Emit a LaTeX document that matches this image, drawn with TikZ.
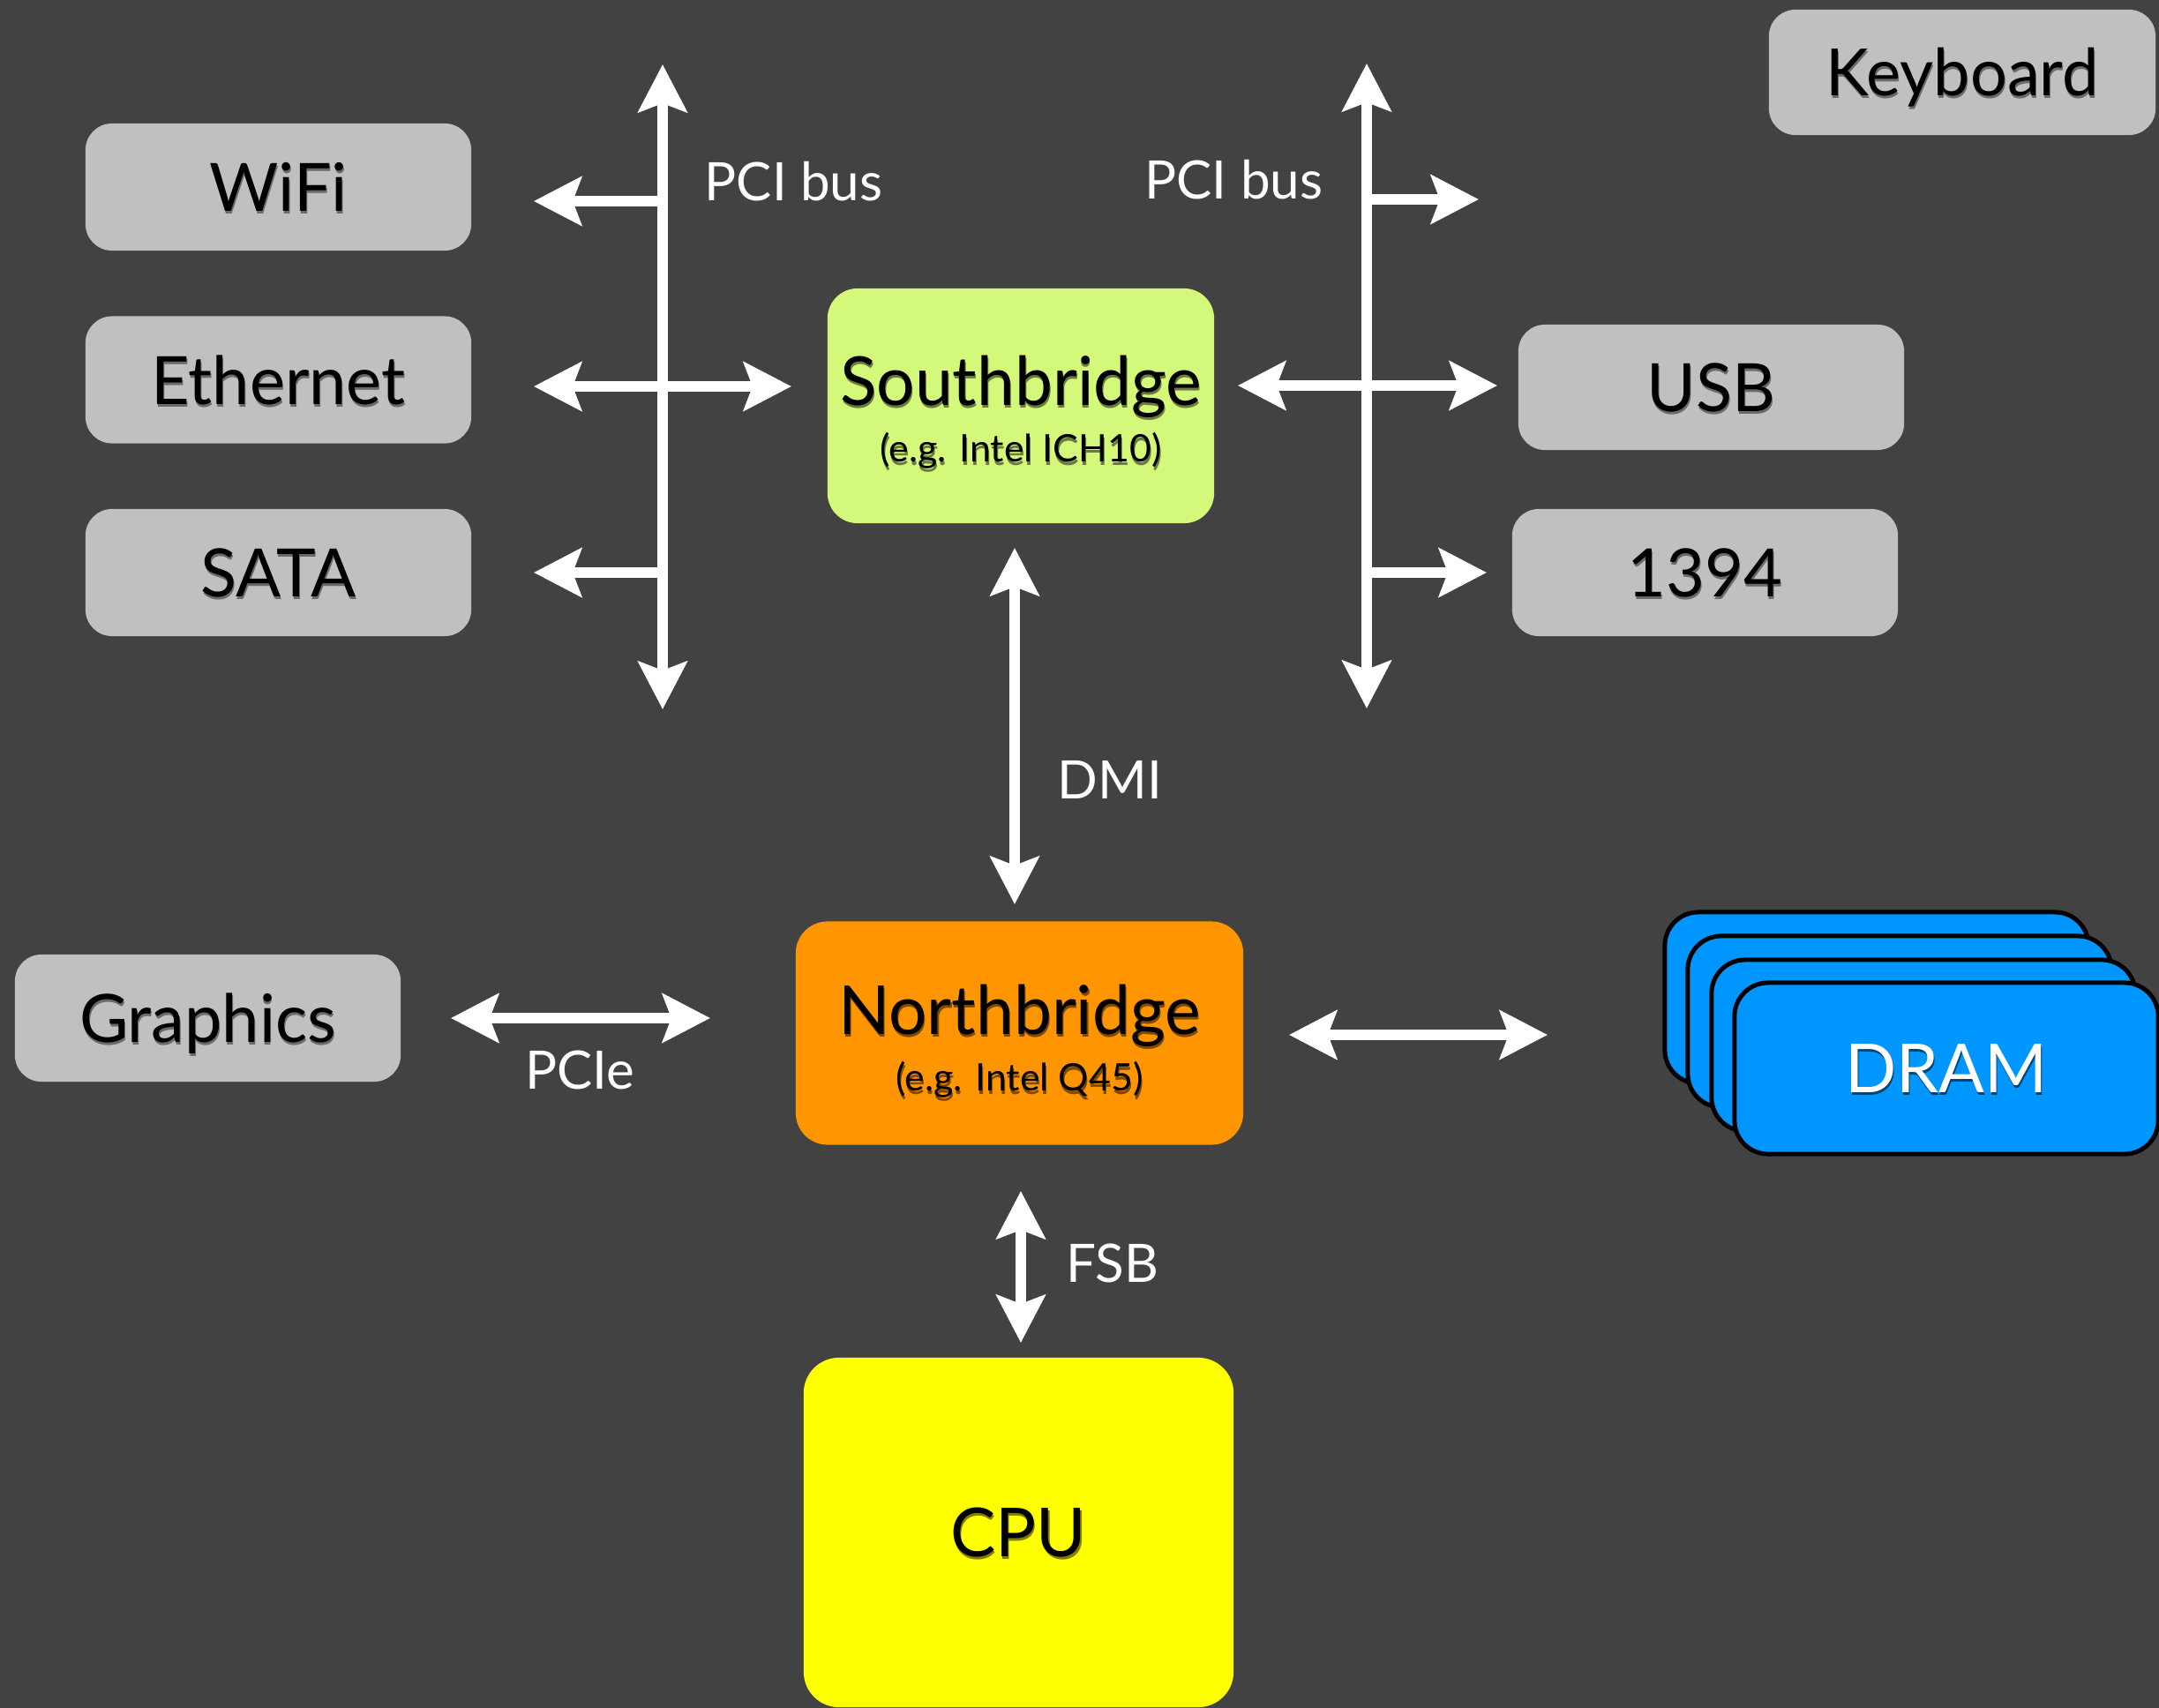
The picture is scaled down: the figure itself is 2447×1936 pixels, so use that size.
\documentclass[tikz,border=0pt]{standalone}
\usepackage{fontspec}
\setmainfont{Lato}
\usetikzlibrary{arrows.meta}
\definecolor{bg}{HTML}{424242}
\definecolor{boxgray}{HTML}{C0C0C0}
\definecolor{sbgreen}{HTML}{D4F87A}
\definecolor{nborange}{HTML}{FF9500}
\definecolor{cpuyellow}{HTML}{FFFF00}
\definecolor{dramblue}{HTML}{0096FF}
\newcommand\labfont{\fontsize{21.5}{26}\selectfont}
\newcommand\kbdfont{\fontsize{21}{25}\selectfont}
\newcommand\chipfont{\fontsize{21.8}{21.5}\selectfont}
\newcommand\chipsubfont{\fontsize{12.2}{21.5}\selectfont}
\newcommand\busfont{\fontsize{17.1}{20}\selectfont}
\newcommand\sht[2]{\leavevmode\rlap{\kern0.3pt\raisebox{-0.9pt}{\textcolor{#1}{#2}}}#2}
\begin{document}
\begin{tikzpicture}[x=0.01cm,y=-0.01cm,
  >={Stealth[length=0.54cm,width=0.55cm,inset=0.1cm]},
  bus/.style={draw=white, line width=0.12cm},
  graybox/.style={fill=boxgray, rounded corners=0.3cm, inner sep=0pt,
    minimum width=4.37cm, minimum height=1.44cm, text height=0.55cm, text depth=0pt,
    font=\labfont, text=black},
  chipbox/.style={inner sep=0pt, align=center, text=black},
  dram/.style={fill=dramblue, draw=black, line width=0.05cm, rounded corners=0.38cm,
    minimum width=4.8cm, minimum height=1.94cm, inner sep=0pt},
  buslabel/.style={text=white, font=\busfont, inner sep=0pt}]
\useasboundingbox (0,0) rectangle (2447,1936);
\fill[bg] (0,0) rectangle (2447,1936);

% peripheral boxes
\node[graybox, minimum width=4.38cm, minimum height=1.42cm, text height=0.53cm, font=\kbdfont] (kbd) at (2224,82) {\sht{boxgray!55!black}{Keyboard}};
\node[graybox] (wifi) at (315.5,212) {\sht{boxgray!55!black}{WiFi}};
\node[graybox] (eth) at (315.5,430.5) {\sht{boxgray!55!black}{Ethernet}};
\node[graybox] (sata) at (315.5,649) {\sht{boxgray!55!black}{SATA}};
\node[graybox, minimum height=1.42cm] (usb) at (1939.5,439) {\sht{boxgray!55!black}{USB}};
\node[graybox] (fw) at (1932.5,649) {\sht{boxgray!55!black}{1394}};
\node[graybox] (gfx) at (235.5,1154) {\sht{boxgray!55!black}{Graphics}};

% chips
\node[chipbox, fill=sbgreen, rounded corners=0.34cm, minimum width=4.38cm, minimum height=2.66cm] (sbbox) at (1157,460) {};
\node[chipbox] (sb) at (1157,469)
  {\chipfont\sht{sbgreen!50!black}{Southbridge}\\[3pt]\chipsubfont\sht{sbgreen!50!black}{(e.g. Intel ICH10)}};
\node[chipbox, fill=nborange, rounded corners=0.36cm, minimum width=5.07cm, minimum height=2.53cm] (nbbox) at (1155.5,1171) {};
\node[chipbox] (nb) at (1155.5,1182)
  {\chipfont\sht{nborange!50!black}{Northbridge}\\[3pt]\chipsubfont\sht{nborange!50!black}{(e.g. Intel Q45)}};
\node[chipbox, fill=cpuyellow, rounded corners=0.4cm, minimum width=4.87cm, minimum height=3.96cm,
  text height=0.55cm, text depth=0pt, font=\chipfont] (cpu) at (1154.5,1737) {\sht{cpuyellow!50!black}{CPU}};

% DRAM stack
\node[dram] (dram1) at (2127,1131) {};
\node[dram] (dram2) at (2153,1158) {};
\node[dram] (dram3) at (2180,1185) {};
\node[dram, text=white, font=\chipfont, text height=0.55cm, text depth=0pt] (dram) at (2206,1211) {\sht{dramblue!45!black}{DRAM}};

% left PCI bus
\coordinate (lbT) at (751,73);
\coordinate (lbB) at (751,804);
\coordinate (lbW) at (751,228);
\coordinate (lbWt) at (605,228);
\coordinate (lbEl) at (605,438);
\coordinate (lbEr) at (897,438);
\coordinate (lbS) at (751,649);
\coordinate (lbSt) at (605,649);
\draw[bus,<->] (lbB) -- (lbT);
\draw[bus,->] (lbW) -- (lbWt);
\draw[bus,<->] (lbEl) -- (lbEr);
\draw[bus,->] (lbS) -- (lbSt);
\node[buslabel, anchor=base west] (pcil) at (798,227) {PCI bus};

% right PCI bus
\coordinate (rbT) at (1549,72);
\coordinate (rbB) at (1549,803);
\coordinate (rbK) at (1549,226);
\coordinate (rbKt) at (1676,226);
\coordinate (rbUl) at (1403,437);
\coordinate (rbUr) at (1697,437);
\coordinate (rbF) at (1549,649);
\coordinate (rbFt) at (1685,649);
\draw[bus,<->] (rbB) -- (rbT);
\draw[bus,->] (rbK) -- (rbKt);
\draw[bus,<->] (rbUl) -- (rbUr);
\draw[bus,->] (rbF) -- (rbFt);
\node[buslabel, anchor=base east] (pcir) at (1500,225) {PCI bus};

% DMI
\coordinate (dmiT) at (1150,621);
\coordinate (dmiB) at (1150,1025);
\draw[bus,<->] (dmiT) -- (dmiB);
\node[buslabel, anchor=base west] (dmi) at (1198,905) {DMI};

% PCIe
\coordinate (pcieL) at (511,1154);
\coordinate (pcieR) at (805,1154);
\draw[bus,<->] (pcieL) -- (pcieR);
\node[buslabel, anchor=base] (pcie) at (657,1234) {PCIe};

% memory bus
\coordinate (memL) at (1461,1173);
\coordinate (memR) at (1754,1173);
\draw[bus,<->] (memL) -- (memR);

% FSB
\coordinate (fsbT) at (1157,1350);
\coordinate (fsbB) at (1157,1522);
\draw[bus,<->] (fsbT) -- (fsbB);
\node[buslabel, anchor=base west] (fsb) at (1208,1453) {FSB};
\end{tikzpicture}
\end{document}
